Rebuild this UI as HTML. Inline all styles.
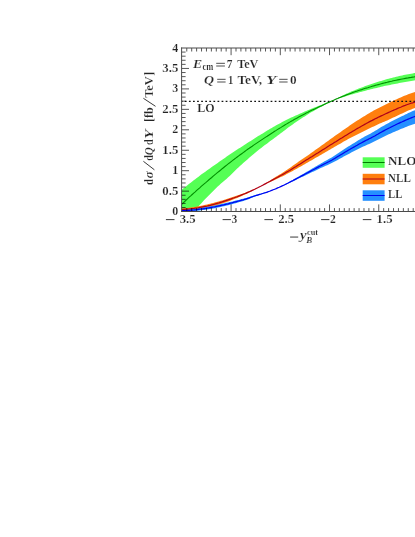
<!DOCTYPE html>
<html><head><meta charset="utf-8"><title>plot</title>
<style>
html,body{margin:0;padding:0;background:#fff;}
body{width:415px;height:537px;overflow:hidden;position:relative;font-family:"Liberation Serif",serif;}
svg{position:absolute;left:0;top:0;display:block;}
svg text{font-family:"Liberation Serif",serif;font-weight:bold;fill:#242424;stroke:#fff;stroke-width:0.18px;paint-order:fill stroke;}
</style></head><body>
<svg width="415" height="537" viewBox="0 0 415 537">
<defs><clipPath id="pc"><rect x="181.8" y="48.00" width="238.2" height="163.60"/></clipPath></defs>
<rect x="0" y="0" width="415" height="537" fill="#ffffff"/>
<g clip-path="url(#pc)">
<polygon points="181.7,189.8 183.2,188.6 184.7,187.4 186.2,186.2 187.7,185.0 189.2,183.8 190.7,182.7 192.2,181.5 193.7,180.3 195.2,179.2 196.7,178.0 198.2,176.9 199.7,175.8 201.2,174.6 202.7,173.5 204.2,172.5 205.7,171.4 207.2,170.3 208.7,169.2 210.2,168.2 211.7,167.1 213.2,166.1 214.7,165.0 216.2,163.9 217.7,162.9 219.2,161.8 220.7,160.8 222.2,159.7 223.7,158.7 225.2,157.7 226.7,156.6 228.2,155.6 229.7,154.6 231.2,153.6 232.7,152.6 234.2,151.6 235.7,150.6 237.2,149.6 238.7,148.6 240.2,147.7 241.7,146.7 243.2,145.7 244.7,144.7 246.2,143.8 247.7,142.8 249.2,141.8 250.7,140.9 252.2,139.9 253.7,138.9 255.2,138.0 256.7,137.1 258.2,136.1 259.7,135.2 261.2,134.3 262.7,133.4 264.2,132.5 265.7,131.6 267.2,130.6 268.7,129.7 270.2,128.8 271.7,128.0 273.2,127.1 274.7,126.2 276.2,125.3 277.7,124.5 279.2,123.7 280.7,122.9 282.2,122.0 283.7,121.2 285.2,120.5 286.7,119.7 288.2,119.0 289.7,118.3 291.2,117.6 292.7,116.9 294.2,116.2 295.7,115.5 297.2,114.9 298.7,114.2 300.2,113.5 301.7,112.9 303.2,112.2 304.7,111.6 306.2,110.9 307.7,110.3 309.2,109.7 310.7,109.0 312.2,108.4 313.7,107.8 315.2,107.3 316.7,106.7 318.2,106.1 319.7,105.5 321.2,104.9 322.7,104.3 324.2,103.7 325.7,103.1 327.2,102.6 328.7,102.0 330.2,101.4 331.7,100.8 333.2,100.3 334.7,99.5 336.2,98.8 337.7,98.0 339.2,97.2 340.7,96.4 342.2,95.7 343.7,95.0 345.2,94.3 346.7,93.6 348.2,92.9 349.7,92.3 351.2,91.6 352.7,91.0 354.2,90.4 355.7,89.8 357.2,89.2 358.7,88.6 360.2,88.0 361.7,87.4 363.2,86.9 364.7,86.3 366.2,85.8 367.7,85.3 369.2,84.7 370.7,84.2 372.2,83.7 373.7,83.2 375.2,82.7 376.7,82.2 378.2,81.8 379.7,81.3 381.2,80.9 382.7,80.4 384.2,80.0 385.7,79.6 387.2,79.1 388.7,78.7 390.2,78.3 391.7,77.9 393.2,77.6 394.7,77.2 396.2,76.8 397.7,76.5 399.2,76.1 400.7,75.8 402.2,75.5 403.7,75.1 405.2,74.8 406.7,74.5 408.2,74.2 409.7,74.0 411.2,73.7 412.7,73.4 414.2,73.1 415.7,72.9 417.2,72.6 418.7,72.4 420.2,72.2 420.2,79.5 418.7,79.8 417.2,80.0 415.7,80.2 414.2,80.5 412.7,80.7 411.2,81.0 409.7,81.2 408.2,81.5 406.7,81.8 405.2,82.0 403.7,82.3 402.2,82.5 400.7,82.8 399.2,83.1 397.7,83.4 396.2,83.7 394.7,84.0 393.2,84.3 391.7,84.6 390.2,84.9 388.7,85.2 387.2,85.5 385.7,85.8 384.2,86.1 382.7,86.5 381.2,86.8 379.7,87.2 378.2,87.5 376.7,87.9 375.2,88.2 373.7,88.6 372.2,89.0 370.7,89.3 369.2,89.7 367.7,90.1 366.2,90.5 364.7,90.9 363.2,91.3 361.7,91.7 360.2,92.1 358.7,92.5 357.2,92.9 355.7,93.3 354.2,93.7 352.7,94.2 351.2,94.6 349.7,95.0 348.2,95.5 346.7,95.9 345.2,96.4 343.7,96.9 342.2,97.4 340.7,97.8 339.2,98.3 337.7,98.8 336.2,99.3 334.7,99.8 333.2,100.4 331.7,101.1 330.2,101.9 328.7,102.6 327.2,103.4 325.7,104.2 324.2,105.0 322.7,105.9 321.2,106.7 319.7,107.5 318.2,108.3 316.7,109.2 315.2,110.0 313.7,110.9 312.2,111.7 310.7,112.6 309.2,113.5 307.7,114.5 306.2,115.4 304.7,116.4 303.2,117.3 301.7,118.3 300.2,119.3 298.7,120.3 297.2,121.3 295.7,122.3 294.2,123.3 292.7,124.4 291.2,125.5 289.7,126.6 288.2,127.6 286.7,128.8 285.2,129.9 283.7,131.0 282.2,132.2 280.7,133.3 279.2,134.5 277.7,135.6 276.2,136.7 274.7,137.8 273.2,138.9 271.7,140.0 270.2,141.1 268.7,142.3 267.2,143.4 265.7,144.5 264.2,145.6 262.7,146.8 261.2,147.9 259.7,149.1 258.2,150.3 256.7,151.5 255.2,152.8 253.7,154.0 252.2,155.3 250.7,156.6 249.2,157.8 247.7,159.2 246.2,160.5 244.7,161.8 243.2,163.1 241.7,164.5 240.2,165.8 238.7,167.2 237.2,168.6 235.7,170.1 234.2,171.5 232.7,173.0 231.2,174.4 229.7,175.9 228.2,177.3 226.7,178.7 225.2,179.9 223.7,181.2 222.2,182.5 220.7,183.8 219.2,185.2 217.7,186.6 216.2,188.0 214.7,189.5 213.2,190.9 211.7,192.4 210.2,193.9 208.7,195.4 207.2,196.9 205.7,198.5 204.2,200.1 202.7,201.8 201.2,203.4 199.7,205.1 198.2,206.7 196.7,208.4 195.2,210.1 193.7,211.8 192.2,213.5 190.7,215.3 189.2,217.0 187.7,218.8 186.2,220.6 184.7,222.3 183.2,224.1 181.7,226.0" fill="#55ff55"/>
<polygon points="181.7,208.5 183.2,208.4 184.7,208.3 186.2,208.1 187.7,207.9 189.2,207.8 190.7,207.5 192.2,207.3 193.7,207.1 195.2,206.9 196.7,206.6 198.2,206.3 199.7,206.0 201.2,205.7 202.7,205.4 204.2,205.1 205.7,204.8 207.2,204.4 208.7,204.1 210.2,203.7 211.7,203.3 213.2,202.9 214.7,202.5 216.2,202.1 217.7,201.7 219.2,201.3 220.7,200.8 222.2,200.4 223.7,200.0 225.2,199.5 226.7,199.0 228.2,198.6 229.7,198.1 231.2,197.6 232.7,197.1 234.2,196.6 235.7,196.1 237.2,195.6 238.7,195.1 240.2,194.6 241.7,194.0 243.2,193.5 244.7,192.9 246.2,192.3 247.7,191.8 249.2,191.2 250.7,190.5 252.2,189.9 253.7,189.3 255.2,188.7 256.7,188.0 258.2,187.4 259.7,186.7 261.2,186.0 262.7,185.1 264.2,184.2 265.7,183.3 267.2,182.3 268.7,181.4 270.2,180.4 271.7,179.4 273.2,178.5 274.7,177.6 276.2,176.6 277.7,175.7 279.2,174.8 280.7,173.9 282.2,172.9 283.7,171.9 285.2,171.0 286.7,169.9 288.2,168.9 289.7,167.9 291.2,166.9 292.7,165.8 294.2,164.8 295.7,163.7 297.2,162.7 298.7,161.6 300.2,160.6 301.7,159.6 303.2,158.5 304.7,157.5 306.2,156.5 307.7,155.4 309.2,154.4 310.7,153.3 312.2,152.2 313.7,151.2 315.2,150.1 316.7,149.0 318.2,147.9 319.7,146.9 321.2,145.8 322.7,144.7 324.2,143.7 325.7,142.6 327.2,141.5 328.7,140.4 330.2,139.3 331.7,138.3 333.2,137.2 334.7,136.1 336.2,135.0 337.7,134.0 339.2,132.9 340.7,131.9 342.2,130.8 343.7,129.8 345.2,128.7 346.7,127.7 348.2,126.7 349.7,125.6 351.2,124.6 352.7,123.6 354.2,122.6 355.7,121.6 357.2,120.6 358.7,119.7 360.2,118.7 361.7,117.8 363.2,116.8 364.7,115.9 366.2,115.0 367.7,114.1 369.2,113.2 370.7,112.3 372.2,111.4 373.7,110.6 375.2,109.8 376.7,109.0 378.2,108.2 379.7,107.5 381.2,106.7 382.7,106.0 384.2,105.3 385.7,104.5 387.2,103.8 388.7,103.0 390.2,102.3 391.7,101.5 393.2,100.8 394.7,100.1 396.2,99.4 397.7,98.7 399.2,98.0 400.7,97.4 402.2,96.7 403.7,96.1 405.2,95.5 406.7,94.9 408.2,94.3 409.7,93.8 411.2,93.3 412.7,92.8 414.2,92.3 415.7,91.9 417.2,91.5 418.7,91.1 420.2,90.7 420.2,106.5 418.7,106.9 417.2,107.4 415.7,107.8 414.2,108.3 412.7,108.8 411.2,109.4 409.7,110.0 408.2,110.6 406.7,111.3 405.2,112.0 403.7,112.7 402.2,113.4 400.7,114.1 399.2,114.8 397.7,115.5 396.2,116.2 394.7,116.9 393.2,117.6 391.7,118.3 390.2,119.0 388.7,119.7 387.2,120.4 385.7,121.1 384.2,121.7 382.7,122.3 381.2,123.0 379.7,123.6 378.2,124.3 376.7,125.0 375.2,125.7 373.7,126.4 372.2,127.1 370.7,127.8 369.2,128.5 367.7,129.3 366.2,130.0 364.7,130.7 363.2,131.4 361.7,132.2 360.2,132.9 358.7,133.7 357.2,134.4 355.7,135.2 354.2,135.9 352.7,136.7 351.2,137.5 349.7,138.3 348.2,139.1 346.7,140.0 345.2,140.8 343.7,141.6 342.2,142.5 340.7,143.4 339.2,144.2 337.7,145.1 336.2,146.0 334.7,146.8 333.2,147.7 331.7,148.6 330.2,149.5 328.7,150.3 327.2,151.2 325.7,152.1 324.2,153.0 322.7,153.8 321.2,154.7 319.7,155.6 318.2,156.4 316.7,157.3 315.2,158.1 313.7,159.0 312.2,159.9 310.7,160.7 309.2,161.6 307.7,162.4 306.2,163.3 304.7,164.2 303.2,165.0 301.7,165.9 300.2,166.8 298.7,167.6 297.2,168.5 295.7,169.3 294.2,170.1 292.7,170.9 291.2,171.7 289.7,172.5 288.2,173.3 286.7,174.1 285.2,174.9 283.7,175.7 282.2,176.4 280.7,177.1 279.2,177.8 277.7,178.5 276.2,179.2 274.7,179.9 273.2,180.6 271.7,181.3 270.2,182.0 268.7,182.6 267.2,183.3 265.7,184.0 264.2,184.6 262.7,185.3 261.2,186.0 259.7,186.8 258.2,187.7 256.7,188.5 255.2,189.3 253.7,190.1 252.2,190.9 250.7,191.7 249.2,192.5 247.7,193.2 246.2,193.9 244.7,194.6 243.2,195.3 241.7,196.0 240.2,196.7 238.7,197.3 237.2,197.9 235.7,198.5 234.2,199.1 232.7,199.7 231.2,200.3 229.7,200.9 228.2,201.4 226.7,202.0 225.2,202.5 223.7,203.0 222.2,203.5 220.7,204.0 219.2,204.5 217.7,204.9 216.2,205.4 214.7,205.8 213.2,206.2 211.7,206.6 210.2,207.0 208.7,207.3 207.2,207.6 205.7,208.0 204.2,208.3 202.7,208.5 201.2,208.8 199.7,209.0 198.2,209.2 196.7,209.4 195.2,209.6 193.7,209.8 192.2,209.9 190.7,210.0 189.2,210.1 187.7,210.1 186.2,210.2 184.7,210.2 183.2,210.2 181.7,210.1" fill="#ff7f0e"/>
<polygon points="181.7,209.8 183.2,209.7 184.7,209.6 186.2,209.5 187.7,209.4 189.2,209.3 190.7,209.2 192.2,209.0 193.7,208.8 195.2,208.6 196.7,208.4 198.2,208.2 199.7,208.0 201.2,207.8 202.7,207.5 204.2,207.3 205.7,207.0 207.2,206.8 208.7,206.5 210.2,206.2 211.7,206.0 213.2,205.7 214.7,205.4 216.2,205.1 217.7,204.8 219.2,204.5 220.7,204.1 222.2,203.8 223.7,203.5 225.2,203.1 226.7,202.8 228.2,202.4 229.7,202.1 231.2,201.7 232.7,201.4 234.2,201.0 235.7,200.6 237.2,200.2 238.7,199.9 240.2,199.5 241.7,199.1 243.2,198.7 244.7,198.3 246.2,197.9 247.7,197.4 249.2,196.9 250.7,196.4 252.2,195.9 253.7,195.4 255.2,195.0 256.7,194.6 258.2,194.2 259.7,193.8 261.2,193.4 262.7,193.0 264.2,192.6 265.7,192.1 267.2,191.7 268.7,191.2 270.2,190.7 271.7,190.2 273.2,189.7 274.7,189.1 276.2,188.6 277.7,187.9 279.2,187.2 280.7,186.4 282.2,185.7 283.7,184.9 285.2,184.1 286.7,183.3 288.2,182.5 289.7,181.6 291.2,180.8 292.7,179.9 294.2,179.1 295.7,178.2 297.2,177.3 298.7,176.5 300.2,175.6 301.7,174.7 303.2,173.9 304.7,173.0 306.2,172.1 307.7,171.2 309.2,170.4 310.7,169.5 312.2,168.6 313.7,167.7 315.2,166.8 316.7,165.9 318.2,165.0 319.7,164.2 321.2,163.3 322.7,162.5 324.2,161.6 325.7,160.8 327.2,160.0 328.7,159.1 330.2,158.3 331.7,157.4 333.2,156.4 334.7,155.5 336.2,154.5 337.7,153.5 339.2,152.5 340.7,151.5 342.2,150.5 343.7,149.6 345.2,148.6 346.7,147.6 348.2,146.6 349.7,145.7 351.2,144.7 352.7,143.8 354.2,142.9 355.7,141.9 357.2,141.0 358.7,140.1 360.2,139.2 361.7,138.3 363.2,137.5 364.7,136.6 366.2,135.8 367.7,135.0 369.2,134.2 370.7,133.4 372.2,132.5 373.7,131.7 375.2,130.8 376.7,129.9 378.2,129.0 379.7,128.0 381.2,127.1 382.7,126.2 384.2,125.4 385.7,124.5 387.2,123.7 388.7,122.9 390.2,122.1 391.7,121.3 393.2,120.5 394.7,119.8 396.2,119.0 397.7,118.3 399.2,117.5 400.7,116.8 402.2,116.1 403.7,115.4 405.2,114.6 406.7,113.9 408.2,113.1 409.7,112.4 411.2,111.7 412.7,111.1 414.2,110.4 415.7,109.9 417.2,109.3 418.7,108.8 420.2,108.3 420.2,122.1 418.7,122.6 417.2,123.0 415.7,123.5 414.2,124.0 412.7,124.5 411.2,125.0 409.7,125.6 408.2,126.1 406.7,126.7 405.2,127.3 403.7,127.9 402.2,128.5 400.7,129.1 399.2,129.7 397.7,130.4 396.2,131.0 394.7,131.7 393.2,132.3 391.7,133.0 390.2,133.7 388.7,134.3 387.2,135.0 385.7,135.7 384.2,136.4 382.7,137.2 381.2,138.0 379.7,138.7 378.2,139.5 376.7,140.3 375.2,141.1 373.7,141.8 372.2,142.5 370.7,143.2 369.2,143.9 367.7,144.6 366.2,145.2 364.7,145.9 363.2,146.6 361.7,147.3 360.2,148.0 358.7,148.8 357.2,149.5 355.7,150.3 354.2,151.1 352.7,151.8 351.2,152.6 349.7,153.4 348.2,154.2 346.7,155.0 345.2,155.8 343.7,156.6 342.2,157.4 340.7,158.2 339.2,159.1 337.7,159.9 336.2,160.7 334.7,161.5 333.2,162.3 331.7,163.1 330.2,163.8 328.7,164.5 327.2,165.2 325.7,165.8 324.2,166.5 322.7,167.2 321.2,167.8 319.7,168.5 318.2,169.2 316.7,170.0 315.2,170.7 313.7,171.4 312.2,172.1 310.7,172.8 309.2,173.6 307.7,174.3 306.2,175.0 304.7,175.7 303.2,176.4 301.7,177.1 300.2,177.8 298.7,178.6 297.2,179.3 295.7,180.0 294.2,180.7 292.7,181.4 291.2,182.1 289.7,182.8 288.2,183.5 286.7,184.2 285.2,184.9 283.7,185.5 282.2,186.1 280.7,186.8 279.2,187.4 277.7,188.0 276.2,188.6 274.7,189.3 273.2,190.0 271.7,190.6 270.2,191.3 268.7,191.9 267.2,192.5 265.7,193.0 264.2,193.6 262.7,194.1 261.2,194.6 259.7,195.1 258.2,195.6 256.7,196.1 255.2,196.6 253.7,197.1 252.2,197.7 250.7,198.3 249.2,198.9 247.7,199.5 246.2,200.0 244.7,200.5 243.2,200.9 241.7,201.4 240.2,201.8 238.7,202.3 237.2,202.7 235.7,203.2 234.2,203.6 232.7,204.0 231.2,204.4 229.7,204.8 228.2,205.2 226.7,205.6 225.2,205.9 223.7,206.3 222.2,206.6 220.7,207.0 219.2,207.3 217.7,207.6 216.2,207.9 214.7,208.2 213.2,208.5 211.7,208.7 210.2,209.0 208.7,209.3 207.2,209.5 205.7,209.7 204.2,209.9 202.7,210.1 201.2,210.3 199.7,210.5 198.2,210.7 196.7,210.8 195.2,210.9 193.7,211.1 192.2,211.1 190.7,211.2 189.2,211.3 187.7,211.3 186.2,211.3 184.7,211.3 183.2,211.2 181.7,211.2" fill="#2590ff"/>
<line x1="180.75" x2="420" y1="101.3" y2="101.3" stroke="#111" stroke-width="1.15" stroke-dasharray="1.75 2.334"/>
<polyline points="181.7,204.3 183.2,202.9 184.7,201.5 186.2,200.0 187.7,198.6 189.2,197.2 190.7,195.9 192.2,194.5 193.7,193.1 195.2,191.8 196.7,190.4 198.2,189.1 199.7,187.8 201.2,186.4 202.7,185.1 204.2,183.8 205.7,182.6 207.2,181.3 208.7,180.0 210.2,178.7 211.7,177.5 213.2,176.2 214.7,174.9 216.2,173.7 217.7,172.4 219.2,171.2 220.7,170.0 222.2,168.7 223.7,167.5 225.2,166.3 226.7,165.1 228.2,163.9 229.7,162.8 231.2,161.6 232.7,160.4 234.2,159.3 235.7,158.1 237.2,157.0 238.7,155.9 240.2,154.8 241.7,153.7 243.2,152.6 244.7,151.5 246.2,150.4 247.7,149.3 249.2,148.3 250.7,147.2 252.2,146.2 253.7,145.1 255.2,144.1 256.7,143.1 258.2,142.1 259.7,141.1 261.2,140.1 262.7,139.1 264.2,138.1 265.7,137.1 267.2,136.2 268.7,135.2 270.2,134.2 271.7,133.2 273.2,132.3 274.7,131.3 276.2,130.4 277.7,129.4 279.2,128.5 280.7,127.6 282.2,126.6 283.7,125.7 285.2,124.8 286.7,123.9 288.2,123.0 289.7,122.1 291.2,121.2 292.7,120.4 294.2,119.5 295.7,118.7 297.2,117.9 298.7,117.1 300.2,116.3 301.7,115.5 303.2,114.7 304.7,113.9 306.2,113.1 307.7,112.4 309.2,111.6 310.7,110.8 312.2,110.1 313.7,109.4 315.2,108.7 316.7,108.0 318.2,107.3 319.7,106.6 321.2,105.9 322.7,105.2 324.2,104.5 325.7,103.8 327.2,103.1 328.7,102.4 330.2,101.7 331.7,101.1 333.2,100.4 334.7,99.7 336.2,99.1 337.7,98.5 339.2,97.8 340.7,97.2 342.2,96.6 343.7,96.0 345.2,95.4 346.7,94.8 348.2,94.3 349.7,93.7 351.2,93.2 352.7,92.6 354.2,92.1 355.7,91.6 357.2,91.1 358.7,90.5 360.2,90.0 361.7,89.6 363.2,89.1 364.7,88.6 366.2,88.1 367.7,87.7 369.2,87.2 370.7,86.8 372.2,86.3 373.7,85.9 375.2,85.4 376.7,85.0 378.2,84.6 379.7,84.2 381.2,83.8 382.7,83.4 384.2,83.0 385.7,82.6 387.2,82.3 388.7,81.9 390.2,81.5 391.7,81.2 393.2,80.8 394.7,80.5 396.2,80.2 397.7,79.9 399.2,79.6 400.7,79.3 402.2,79.0 403.7,78.7 405.2,78.4 406.7,78.1 408.2,77.9 409.7,77.6 411.2,77.4 412.7,77.1 414.2,76.9 415.7,76.6 417.2,76.4 418.7,76.2 420.2,76.0" fill="none" stroke="#009000" stroke-width="1.1"/>
<polyline points="181.7,209.4 183.2,209.4 184.7,209.3 186.2,209.2 187.7,209.1 189.2,209.0 190.7,208.8 192.2,208.6 193.7,208.5 195.2,208.2 196.7,208.0 198.2,207.8 199.7,207.5 201.2,207.2 202.7,206.9 204.2,206.6 205.7,206.3 207.2,206.0 208.7,205.6 210.2,205.3 211.7,204.9 213.2,204.5 214.7,204.1 216.2,203.7 217.7,203.2 219.2,202.8 220.7,202.3 222.2,201.9 223.7,201.4 225.2,200.9 226.7,200.4 228.2,199.9 229.7,199.4 231.2,198.9 232.7,198.3 234.2,197.8 235.7,197.2 237.2,196.7 238.7,196.1 240.2,195.5 241.7,194.9 243.2,194.3 244.7,193.7 246.2,193.1 247.7,192.4 249.2,191.7 250.7,191.1 252.2,190.4 253.7,189.7 255.2,189.0 256.7,188.2 258.2,187.5 259.7,186.7 261.2,186.0 262.7,185.2 264.2,184.4 265.7,183.6 267.2,182.8 268.7,182.0 270.2,181.2 271.7,180.4 273.2,179.6 274.7,178.8 276.2,178.0 277.7,177.2 279.2,176.4 280.7,175.6 282.2,174.7 283.7,173.9 285.2,173.0 286.7,172.1 288.2,171.3 289.7,170.4 291.2,169.4 292.7,168.5 294.2,167.6 295.7,166.7 297.2,165.7 298.7,164.8 300.2,163.9 301.7,162.9 303.2,162.0 304.7,161.1 306.2,160.1 307.7,159.2 309.2,158.2 310.7,157.3 312.2,156.4 313.7,155.4 315.2,154.5 316.7,153.6 318.2,152.7 319.7,151.7 321.2,150.8 322.7,149.8 324.2,148.9 325.7,148.0 327.2,147.0 328.7,146.1 330.2,145.1 331.7,144.2 333.2,143.3 334.7,142.3 336.2,141.4 337.7,140.4 339.2,139.5 340.7,138.6 342.2,137.7 343.7,136.7 345.2,135.8 346.7,134.9 348.2,134.0 349.7,133.1 351.2,132.2 352.7,131.3 354.2,130.4 355.7,129.5 357.2,128.6 358.7,127.8 360.2,126.9 361.7,126.1 363.2,125.2 364.7,124.4 366.2,123.6 367.7,122.7 369.2,121.9 370.7,121.1 372.2,120.4 373.7,119.6 375.2,118.8 376.7,118.1 378.2,117.3 379.7,116.6 381.2,115.9 382.7,115.2 384.2,114.5 385.7,113.8 387.2,113.1 388.7,112.4 390.2,111.7 391.7,111.0 393.2,110.4 394.7,109.7 396.2,109.1 397.7,108.4 399.2,107.8 400.7,107.2 402.2,106.5 403.7,105.9 405.2,105.4 406.7,104.8 408.2,104.2 409.7,103.7 411.2,103.2 412.7,102.8 414.2,102.3 415.7,101.9 417.2,101.5 418.7,101.1 420.2,100.7" fill="none" stroke="#b0001a" stroke-width="1.2"/>
<polyline points="181.7,210.5 183.2,210.5 184.7,210.5 186.2,210.5 187.7,210.4 189.2,210.3 190.7,210.2 192.2,210.1 193.7,210.0 195.2,209.8 196.7,209.6 198.2,209.4 199.7,209.2 201.2,209.0 202.7,208.8 204.2,208.6 205.7,208.4 207.2,208.1 208.7,207.9 210.2,207.6 211.7,207.3 213.2,207.0 214.7,206.8 216.2,206.5 217.7,206.2 219.2,205.8 220.7,205.5 222.2,205.2 223.7,204.9 225.2,204.5 226.7,204.1 228.2,203.8 229.7,203.4 231.2,203.0 232.7,202.6 234.2,202.2 235.7,201.8 237.2,201.4 238.7,201.0 240.2,200.6 241.7,200.2 243.2,199.8 244.7,199.3 246.2,198.9 247.7,198.4 249.2,197.9 250.7,197.3 252.2,196.8 253.7,196.3 255.2,195.8 256.7,195.3 258.2,194.9 259.7,194.4 261.2,194.0 262.7,193.5 264.2,193.0 265.7,192.6 267.2,192.1 268.7,191.5 270.2,191.0 271.7,190.4 273.2,189.8 274.7,189.2 276.2,188.6 277.7,187.9 279.2,187.3 280.7,186.6 282.2,185.9 283.7,185.2 285.2,184.5 286.7,183.7 288.2,183.0 289.7,182.2 291.2,181.4 292.7,180.7 294.2,179.9 295.7,179.1 297.2,178.3 298.7,177.5 300.2,176.7 301.7,175.9 303.2,175.1 304.7,174.3 306.2,173.5 307.7,172.7 309.2,171.9 310.7,171.1 312.2,170.3 313.7,169.5 315.2,168.7 316.7,167.9 318.2,167.1 319.7,166.3 321.2,165.6 322.7,164.8 324.2,164.0 325.7,163.3 327.2,162.5 328.7,161.8 330.2,161.0 331.7,160.2 333.2,159.3 334.7,158.4 336.2,157.5 337.7,156.6 339.2,155.7 340.7,154.8 342.2,153.9 343.7,153.0 345.2,152.1 346.7,151.2 348.2,150.3 349.7,149.5 351.2,148.6 352.7,147.7 354.2,146.9 355.7,146.0 357.2,145.2 358.7,144.3 360.2,143.5 361.7,142.7 363.2,141.9 364.7,141.1 366.2,140.3 367.7,139.6 369.2,138.8 370.7,138.1 372.2,137.3 373.7,136.5 375.2,135.7 376.7,134.8 378.2,134.0 379.7,133.1 381.2,132.2 382.7,131.4 384.2,130.6 385.7,129.8 387.2,129.0 388.7,128.2 390.2,127.5 391.7,126.7 393.2,126.0 394.7,125.3 396.2,124.5 397.7,123.8 399.2,123.1 400.7,122.4 402.2,121.8 403.7,121.1 405.2,120.4 406.7,119.7 408.2,119.1 409.7,118.5 411.2,117.9 412.7,117.3 414.2,116.7 415.7,116.2 417.2,115.7 418.7,115.2 420.2,114.7" fill="none" stroke="#0000f0" stroke-width="1.2"/>
</g>
<path d="M186.77,211.6v-3.5M186.77,48.00v3.5M191.70,211.6v-3.5M191.70,48.00v3.5M196.62,211.6v-3.5M196.62,48.00v3.5M201.54,211.6v-3.5M201.54,48.00v3.5M206.46,211.6v-3.5M206.46,48.00v3.5M211.39,211.6v-3.5M211.39,48.00v3.5M216.31,211.6v-3.5M216.31,48.00v3.5M221.23,211.6v-3.5M221.23,48.00v3.5M226.15,211.6v-3.5M226.15,48.00v3.5M231.08,211.6v-7.2M231.08,48.00v7.2M236.00,211.6v-3.5M236.00,48.00v3.5M240.92,211.6v-3.5M240.92,48.00v3.5M245.84,211.6v-3.5M245.84,48.00v3.5M250.77,211.6v-3.5M250.77,48.00v3.5M255.69,211.6v-3.5M255.69,48.00v3.5M260.61,211.6v-3.5M260.61,48.00v3.5M265.53,211.6v-3.5M265.53,48.00v3.5M270.45,211.6v-3.5M270.45,48.00v3.5M275.38,211.6v-3.5M275.38,48.00v3.5M280.30,211.6v-7.2M280.30,48.00v7.2M285.22,211.6v-3.5M285.22,48.00v3.5M290.14,211.6v-3.5M290.14,48.00v3.5M295.07,211.6v-3.5M295.07,48.00v3.5M299.99,211.6v-3.5M299.99,48.00v3.5M304.91,211.6v-3.5M304.91,48.00v3.5M309.83,211.6v-3.5M309.83,48.00v3.5M314.76,211.6v-3.5M314.76,48.00v3.5M319.68,211.6v-3.5M319.68,48.00v3.5M324.60,211.6v-3.5M324.60,48.00v3.5M329.52,211.6v-7.2M329.52,48.00v7.2M334.45,211.6v-3.5M334.45,48.00v3.5M339.37,211.6v-3.5M339.37,48.00v3.5M344.29,211.6v-3.5M344.29,48.00v3.5M349.21,211.6v-3.5M349.21,48.00v3.5M354.14,211.6v-3.5M354.14,48.00v3.5M359.06,211.6v-3.5M359.06,48.00v3.5M363.98,211.6v-3.5M363.98,48.00v3.5M368.90,211.6v-3.5M368.90,48.00v3.5M373.83,211.6v-3.5M373.83,48.00v3.5M378.75,211.6v-7.2M378.75,48.00v7.2M383.67,211.6v-3.5M383.67,48.00v3.5M388.60,211.6v-3.5M388.60,48.00v3.5M393.52,211.6v-3.5M393.52,48.00v3.5M398.44,211.6v-3.5M398.44,48.00v3.5M403.36,211.6v-3.5M403.36,48.00v3.5M408.28,211.6v-3.5M408.28,48.00v3.5M413.21,211.6v-3.5M413.21,48.00v3.5M181.8,207.51h3.8M181.8,203.42h3.8M181.8,199.33h3.8M181.8,195.24h3.8M181.8,191.15h7.2M181.8,187.06h3.8M181.8,182.97h3.8M181.8,178.88h3.8M181.8,174.79h3.8M181.8,170.70h7.2M181.8,166.61h3.8M181.8,162.52h3.8M181.8,158.43h3.8M181.8,154.34h3.8M181.8,150.25h7.2M181.8,146.16h3.8M181.8,142.07h3.8M181.8,137.98h3.8M181.8,133.89h3.8M181.8,129.80h7.2M181.8,125.71h3.8M181.8,121.62h3.8M181.8,117.53h3.8M181.8,113.44h3.8M181.8,109.35h7.2M181.8,105.26h3.8M181.8,101.17h3.8M181.8,97.08h3.8M181.8,92.99h3.8M181.8,88.90h7.2M181.8,84.81h3.8M181.8,80.72h3.8M181.8,76.63h3.8M181.8,72.54h3.8M181.8,68.45h7.2M181.8,64.36h3.8M181.8,60.27h3.8M181.8,56.18h3.8M181.8,52.09h3.8" fill="none" stroke="#000" stroke-opacity="0.78" stroke-width="0.85"/>
<path d="M420,48.0H181.1M181.6,47.5V212.0M181.1,211.5H420" fill="none" stroke="#4a4a4a" stroke-width="1.0"/>
<rect x="362.7" y="157.3" width="21.9" height="10.5" fill="#55ff55"/><line x1="362.7" x2="384.6" y1="162.5" y2="162.5" stroke="#007800" stroke-width="1"/><rect x="362.7" y="173.8" width="21.9" height="10.5" fill="#ff7f0e"/><line x1="362.7" x2="384.6" y1="179.0" y2="179.0" stroke="#b0001a" stroke-width="1"/><rect x="362.7" y="190.3" width="21.9" height="10.5" fill="#2590ff"/><line x1="362.7" x2="384.6" y1="195.5" y2="195.5" stroke="#0000f0" stroke-width="1"/>
<g style="filter:grayscale(1)">
<text x="172.3" y="51.5" font-size="11.8" text-anchor="start" textLength="6.0" lengthAdjust="spacingAndGlyphs">4</text><text x="162.3" y="71.9" font-size="11.8" text-anchor="start" textLength="16.0" lengthAdjust="spacingAndGlyphs">3.5</text><text x="172.3" y="92.4" font-size="11.8" text-anchor="start" textLength="6.0" lengthAdjust="spacingAndGlyphs">3</text><text x="162.3" y="112.8" font-size="11.8" text-anchor="start" textLength="16.0" lengthAdjust="spacingAndGlyphs">2.5</text><text x="172.3" y="133.3" font-size="11.8" text-anchor="start" textLength="6.0" lengthAdjust="spacingAndGlyphs">2</text><text x="162.3" y="153.8" font-size="11.8" text-anchor="start" textLength="16.0" lengthAdjust="spacingAndGlyphs">1.5</text><text x="172.3" y="174.2" font-size="11.8" text-anchor="start" textLength="6.0" lengthAdjust="spacingAndGlyphs">1</text><text x="162.3" y="194.7" font-size="11.8" text-anchor="start" textLength="16.0" lengthAdjust="spacingAndGlyphs">0.5</text><text x="172.3" y="215.1" font-size="11.8" text-anchor="start" textLength="6.0" lengthAdjust="spacingAndGlyphs">0</text><rect x="165.9" y="219.2" width="8.6" height="0.9" fill="#242424"/><text x="179.7" y="222.9" font-size="11.8" text-anchor="start" textLength="15.9" lengthAdjust="spacingAndGlyphs">3.5</text><rect x="222.6" y="219.2" width="8.3" height="0.9" fill="#242424"/><text x="231.6" y="222.9" font-size="11.8" text-anchor="start" textLength="5.8" lengthAdjust="spacingAndGlyphs">3</text><rect x="264.4" y="219.2" width="8.6" height="0.9" fill="#242424"/><text x="278.2" y="222.9" font-size="11.8" text-anchor="start" textLength="15.9" lengthAdjust="spacingAndGlyphs">2.5</text><rect x="321.1" y="219.2" width="8.3" height="0.9" fill="#242424"/><text x="330.1" y="222.9" font-size="11.8" text-anchor="start" textLength="5.8" lengthAdjust="spacingAndGlyphs">2</text><rect x="362.8" y="219.2" width="8.6" height="0.9" fill="#242424"/><text x="376.6" y="222.9" font-size="11.8" text-anchor="start" textLength="15.9" lengthAdjust="spacingAndGlyphs">1.5</text><rect x="419.5" y="219.2" width="8.3" height="0.9" fill="#242424"/><text x="428.5" y="222.9" font-size="11.8" text-anchor="start" textLength="5.8" lengthAdjust="spacingAndGlyphs">1</text>
<text x="193.1" y="67.8" font-size="11.5" text-anchor="start" font-style="italic" textLength="9.2" lengthAdjust="spacingAndGlyphs">E</text><text x="202.6" y="69.6" font-size="9.5" text-anchor="start" textLength="10.8" lengthAdjust="spacingAndGlyphs">cm</text><rect x="216.2" y="62.85" width="8.7" height="0.8" fill="#242424"/><rect x="216.2" y="65.6" width="8.7" height="0.8" fill="#242424"/><text x="226.7" y="67.8" font-size="11.5" text-anchor="start" textLength="5.7" lengthAdjust="spacingAndGlyphs">7</text><text x="237.2" y="67.8" font-size="11.5" text-anchor="start" textLength="21.2" lengthAdjust="spacingAndGlyphs">TeV</text><text x="203.9" y="83.8" font-size="11.5" text-anchor="start" font-style="italic" textLength="10" lengthAdjust="spacingAndGlyphs">Q</text><rect x="217.2" y="78.85" width="8.4" height="0.8" fill="#242424"/><rect x="217.2" y="81.6" width="8.4" height="0.8" fill="#242424"/><text x="228.0" y="83.8" font-size="11.5" text-anchor="start" textLength="5.3" lengthAdjust="spacingAndGlyphs">1</text><text x="237.4" y="83.8" font-size="11.5" text-anchor="start" textLength="24.7" lengthAdjust="spacingAndGlyphs">TeV,</text><text x="265.9" y="83.8" font-size="11.5" text-anchor="start" font-style="italic" textLength="10.5" lengthAdjust="spacingAndGlyphs">Y</text><rect x="279.2" y="78.85" width="8.4" height="0.8" fill="#242424"/><rect x="279.2" y="81.6" width="8.4" height="0.8" fill="#242424"/><text x="289.9" y="83.8" font-size="11.5" text-anchor="start" textLength="6.6" lengthAdjust="spacingAndGlyphs">0</text><text x="197.3" y="112.4" font-size="11.9" text-anchor="start" textLength="17.4" lengthAdjust="spacingAndGlyphs">LO</text>
<text x="388.0" y="165.2" font-size="11.5" text-anchor="start" textLength="28.3" lengthAdjust="spacingAndGlyphs">NLO</text><text x="388.0" y="181.7" font-size="11.5" text-anchor="start" textLength="22.9" lengthAdjust="spacingAndGlyphs">NLL</text><text x="388.0" y="198.2" font-size="11.5" text-anchor="start" textLength="14.5" lengthAdjust="spacingAndGlyphs">LL</text>
<g transform="translate(152.6,184.9) rotate(-90)"><text x="0" y="0" font-size="11.5" text-anchor="start" textLength="6.0" lengthAdjust="spacingAndGlyphs">d</text><text x="6.5" y="0" font-size="11.5" text-anchor="start" font-style="italic" textLength="7.3" lengthAdjust="spacingAndGlyphs">σ</text><line x1="15.1" y1="1.8" x2="23.6" y2="-9.2" stroke="#242424" stroke-width="0.9"/><text x="24.2" y="0" font-size="11.5" text-anchor="start" textLength="5.6" lengthAdjust="spacingAndGlyphs">d</text><text x="29.6" y="0" font-size="11.5" text-anchor="start" font-style="italic" textLength="8.0" lengthAdjust="spacingAndGlyphs">Q</text><text x="39.9" y="0" font-size="11.5" text-anchor="start" textLength="5.6" lengthAdjust="spacingAndGlyphs">d</text><text x="46" y="0" font-size="11.5" text-anchor="start" font-style="italic" textLength="9.7" lengthAdjust="spacingAndGlyphs">Y</text><text x="62.9" y="0" font-size="11.5" text-anchor="start" textLength="14.8" lengthAdjust="spacingAndGlyphs">[fb</text><line x1="78.6" y1="2.9" x2="86.6" y2="-9.2" stroke="#242424" stroke-width="0.9"/><text x="87.2" y="0" font-size="11.5" text-anchor="start" textLength="21.4" lengthAdjust="spacingAndGlyphs">TeV</text><text x="109.2" y="0" font-size="11.5" text-anchor="start">]</text></g>
<rect x="290.1" y="236.6" width="8.1" height="0.9" fill="#242424"/><text x="300.1" y="239.2" font-size="11.5" text-anchor="start" font-style="italic" textLength="6.6" lengthAdjust="spacingAndGlyphs">y</text><text x="307.0" y="234.5" font-size="8" text-anchor="start" textLength="11.0" lengthAdjust="spacingAndGlyphs">cut</text><text x="306.2" y="243.2" font-size="8" text-anchor="start" font-style="italic" textLength="6.0" lengthAdjust="spacingAndGlyphs">B</text>
</g>
</svg>
</body></html>
